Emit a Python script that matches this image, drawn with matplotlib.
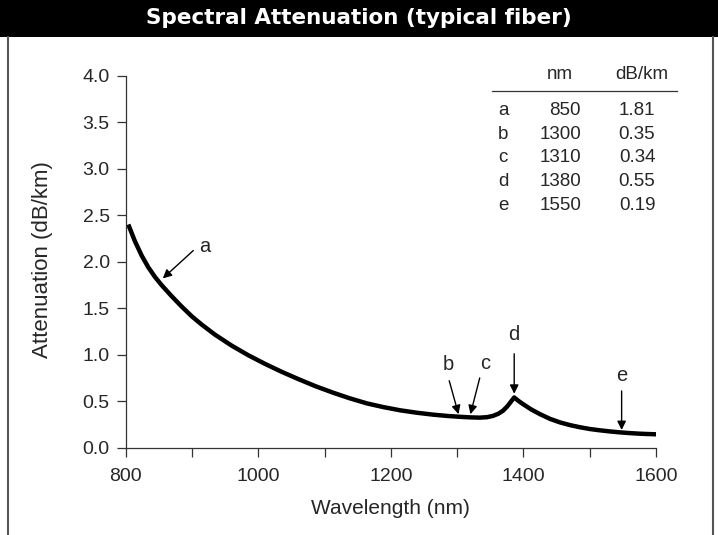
import matplotlib.pyplot as plt
from matplotlib.patches import Rectangle
from matplotlib.lines import Line2D

plt.rcParams['font.family'] = 'Liberation Sans'

# curve
wavelength = [804, 814, 824, 834, 844, 854, 869, 884, 900, 915, 935, 960, 985,
              1010, 1035, 1060, 1086, 1113, 1138, 1164, 1189, 1214, 1239, 1264,
              1284, 1304, 1320, 1334, 1345, 1354, 1362, 1369, 1375, 1380, 1386,
              1393, 1400, 1412, 1425, 1440, 1455, 1470, 1485, 1500, 1515, 1530,
              1545, 1560, 1574, 1587, 1600]
attenuation = [2.400, 2.220, 2.068, 1.942, 1.838, 1.750, 1.632, 1.521, 1.411,
               1.322, 1.214, 1.097, 0.994, 0.902, 0.817, 0.739, 0.662, 0.591,
               0.531, 0.476, 0.436, 0.402, 0.376, 0.355, 0.342, 0.332, 0.326,
               0.323, 0.328, 0.342, 0.365, 0.397, 0.440, 0.485, 0.540,
               0.500, 0.465, 0.410, 0.360, 0.310, 0.272, 0.243, 0.220, 0.201,
               0.187, 0.175, 0.165, 0.157, 0.151, 0.147, 0.144]

# table
row_labels = ['a', 'b', 'c', 'd', 'e']
table_nm = [850, 1300, 1310, 1380, 1550]
table_db = ['1.81', '0.35', '0.34', '0.55', '0.19']

# arrow tips / tails / letter positions (data coords)
arrow_tips = [(856, 1.82), (1302, 0.36), (1320, 0.36), (1386, 0.58), (1548, 0.19)]
arrow_tails = [(902, 2.12), (1288, 0.72), (1334, 0.75), (1386, 1.01), (1548, 0.61)]
letter_pos = [(920, 2.16), (1287, 0.89), (1342, 0.91), (1386, 1.22), (1548, 0.78)]

txt_color = '#262626'

fig = plt.figure(figsize=(7.18, 5.35), dpi=100)
ax = fig.add_axes([0.175, 0.1632, 0.7388, 0.6953])

ax.plot(wavelength, attenuation, color='black', lw=3.2,
        solid_capstyle='butt', solid_joinstyle='round')

for lab, tip, tail, pos in zip(row_labels, arrow_tips, arrow_tails, letter_pos):
    ax.annotate('', xy=tip, xytext=tail,
                arrowprops=dict(arrowstyle='-|>', color='black', lw=1,
                                mutation_scale=13, shrinkA=0, shrinkB=0))
    ax.text(pos[0], pos[1], lab, ha='center', va='center', fontsize=14.5,
            color=txt_color)

ax.set_xlim(800, 1600)
ax.set_ylim(0, 4.0)
ax.set_xticks(range(800, 1601, 100))
ax.set_xticklabels([str(v) if v % 200 == 0 else '' for v in range(800, 1601, 100)])
ax.set_yticks([i * 0.5 for i in range(9)])
ax.set_yticklabels([f'{i * 0.5:.1f}' for i in range(9)])
ax.tick_params(direction='out', length=6.5, width=0.9, color='#333333',
               labelsize=14, labelcolor=txt_color)
ax.tick_params(axis='x', pad=8)
ax.tick_params(axis='y', pad=5)
for s in ['top', 'right']:
    ax.spines[s].set_visible(False)
for s in ['left', 'bottom']:
    ax.spines[s].set_linewidth(0.9)
    ax.spines[s].set_color('#333333')

ax.set_xlabel('Wavelength (nm)', fontsize=15, color=txt_color)
ax.set_ylabel('Attenuation (dB/km)', fontsize=16, color=txt_color)
ax.xaxis.set_label_coords(0.5, -0.137)
ax.yaxis.set_label_coords(-0.137, 0.505)

# inset table
ax.text(0.8193, 1.002, 'nm', transform=ax.transAxes, ha='center', va='center',
        fontsize=13.5, color=txt_color)
ax.text(0.973, 1.002, 'dB/km', transform=ax.transAxes, ha='center', va='center',
        fontsize=13.5, color=txt_color)
ax.add_line(Line2D([0.690, 1.040], [0.959, 0.959], transform=ax.transAxes,
                   color='#333333', lw=0.9, clip_on=False))
for i, (lab, nm, db) in enumerate(zip(row_labels, table_nm, table_db)):
    y = 0.906 - i * 0.0634
    ax.text(0.7115, y, lab, transform=ax.transAxes, ha='center', va='center',
            fontsize=13.5, color=txt_color)
    ax.text(0.8585, y, str(nm), transform=ax.transAxes, ha='right', va='center',
            fontsize=13.5, color=txt_color)
    ax.text(0.964, y, db, transform=ax.transAxes, ha='center', va='center',
            fontsize=13.5, color=txt_color)

# title bar and frame
fig.patches.append(Rectangle((0, 1 - 37 / 535), 1, 37 / 535, transform=fig.transFigure,
                             facecolor='black', edgecolor='none'))
fig.text(0.5, 1 - 18.5 / 535, 'Spectral Attenuation (typical fiber)', ha='center',
         va='center', color='white', fontsize=15.5, fontweight='bold',
         family='DejaVu Sans')
for xf in [8 / 718, 713 / 718]:
    fig.add_artist(Line2D([xf, xf], [0, 1 - 37 / 535], transform=fig.transFigure,
                          color='#555555', lw=1.5))

fig.savefig('out.png', dpi=100)
